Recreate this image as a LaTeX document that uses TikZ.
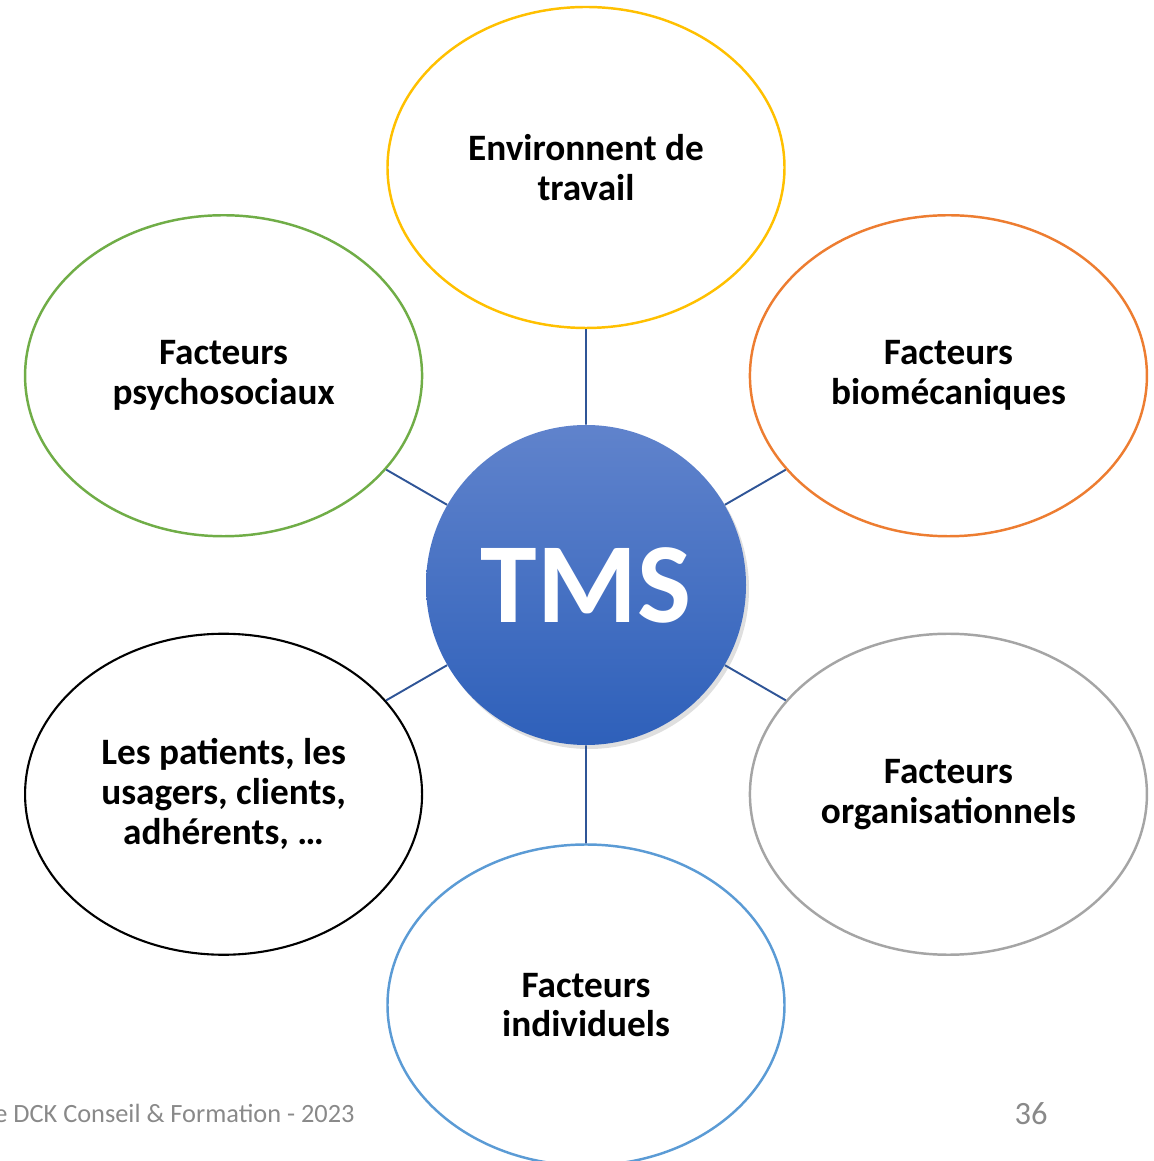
\documentclass[tikz,border=0pt]{standalone}
\usepackage{fontspec}
\setmainfont{Carlito}
\usetikzlibrary{shapes.geometric,shadows}

\definecolor{envyellow}{RGB}{255,192,0}
\definecolor{psygreen}{RGB}{112,173,71}
\definecolor{bioorange}{RGB}{237,125,49}
\definecolor{orggray}{RGB}{165,165,165}
\definecolor{indblue}{RGB}{91,155,213}
\definecolor{linkblue}{RGB}{47,85,151}
\definecolor{hubtop}{RGB}{96,131,204}
\definecolor{hubbottom}{RGB}{46,96,186}
\definecolor{footgray}{RGB}{137,137,137}

\begin{document}
\begin{tikzpicture}[
    factor/.style={ellipse, draw, line width=1.4pt, fill=white,
      minimum width=7.94cm, minimum height=6.42cm, inner sep=0pt,
      align=center, font=\bfseries\fontsize{21.2}{22.7}\selectfont},
    hub/.style={circle, minimum size=6.4cm, inner sep=0pt,
      top color=hubtop, bottom color=hubbottom, text=white,
      drop shadow={opacity=0.25, shadow xshift=0.06cm, shadow yshift=-0.08cm},
      font=\bfseries\fontsize{65}{70}\selectfont},
    link/.style={draw=linkblue, line width=1.1pt},
    footer/.style={text=footgray, inner sep=0pt, font=\fontsize{15}{18}\selectfont}
  ]

  \useasboundingbox (-11.72,-11.52) rectangle (11.34,11.7);

  \node[hub] (tms) at (0,0) {TMS};

  \node[factor, draw=envyellow] (env) at (90:8.35) {Environnent de\\travail};
  \node[factor, draw=psygreen] (psy) at (150:8.37) {Facteurs\\psychosociaux};
  \node[factor, draw=bioorange] (bio) at (30:8.37) {Facteurs\\biomécaniques};
  \node[factor, draw=black, line width=1.2pt] (pat) at (210:8.37) {Les patients, les\\usagers, clients,\\adhérents, …};
  \node[factor, draw=orggray] (org) at (330:8.37) {Facteurs\\organisationnels};
  \node[factor, draw=indblue] (ind) at (270:8.4) {Facteurs\\individuels};

  \path[link]
    (tms) -- (env)
    (tms) -- (psy)
    (tms) -- (bio)
    (tms) -- (pat)
    (tms) -- (org)
    (tms) -- (ind);

  \node[footer, anchor=base east] (copy) at (-4.62,-10.74) {e DCK Conseil \& Formation - 2023};
  \node[footer, anchor=base east, font=\fontsize{18.5}{20}\selectfont] (page) at (9.24,-10.78) {36};
\end{tikzpicture}
\end{document}
